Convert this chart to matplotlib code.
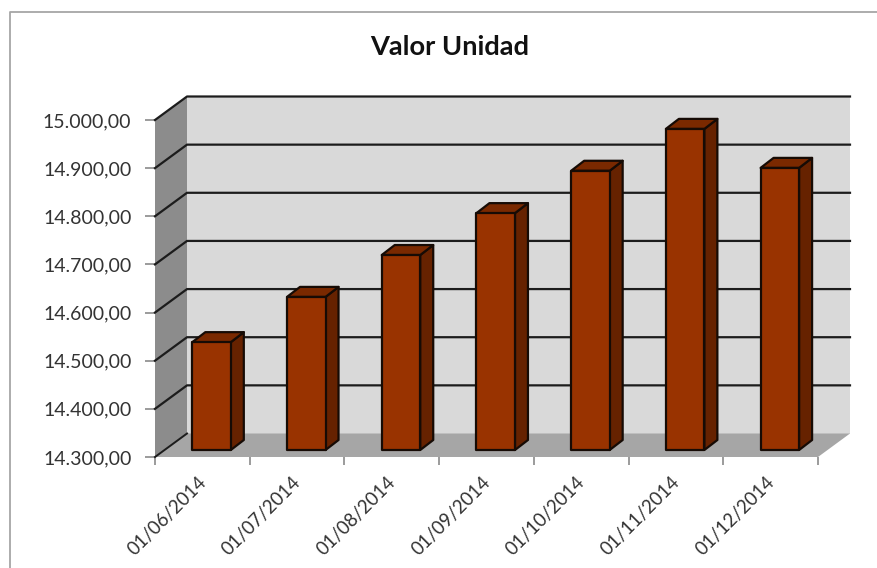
import matplotlib
matplotlib.use("Agg")
import matplotlib.pyplot as plt
from matplotlib.patches import Polygon
from matplotlib.lines import Line2D
from matplotlib.transforms import ScaledTranslation

# ---- data ----
categories = ["01/06/2014", "01/07/2014", "01/08/2014", "01/09/2014",
              "01/10/2014", "01/11/2014", "01/12/2014"]
values = [14524, 14618, 14705, 14792, 14880, 14967, 14886]
y_ticks = [14300, 14400, 14500, 14600, 14700, 14800, 14900, 15000]
y_labels = ["14.300,00", "14.400,00", "14.500,00", "14.600,00",
            "14.700,00", "14.800,00", "14.900,00", "15.000,00"]
title = "Valor Unidad"

W, H = 878, 568
L, R, T, B = 155, 818, 120, 457
plt.rcParams["font.family"] = ["Lato", "DejaVu Sans"]

fig = plt.figure(figsize=(W / 100, H / 100), dpi=100, facecolor="white")
ax = fig.add_axes([L / W, 1 - B / H, (R - L) / W, (B - T) / H])
ax.set_xlim(0, len(categories))
ax.set_ylim(y_ticks[0], y_ticks[-1])
ax.patch.set_visible(False)
for s in ax.spines.values():
    s.set_visible(False)

px_x = len(categories) / (R - L)
px_y = (y_ticks[-1] - y_ticks[0]) / (B - T)
WALL_X, WALL_Y = 32 * px_x, 23.5 * px_y
BAR_OFF_X, BAR_OFF_Y = 9.2 * px_x, 7 * px_y
BAR_DX, BAR_DY = 13 * px_x, 10 * px_y
BAR_W = 38.5 * px_x

xmax = len(categories)
y0, y1 = y_ticks[0], y_ticks[-1]


def poly(pts, fc, ec="none", lw=0, z=1):
    ax.add_patch(Polygon(pts, closed=True, facecolor=fc, edgecolor=ec,
                         linewidth=lw, zorder=z, clip_on=False,
                         joinstyle="round"))


# walls and floor
poly([(WALL_X, y0 + WALL_Y), (xmax + WALL_X, y0 + WALL_Y),
      (xmax + WALL_X, y1 + WALL_Y), (WALL_X, y1 + WALL_Y)], "#d9d9d9")
poly([(0, y0), (WALL_X, y0 + WALL_Y), (WALL_X, y1 + WALL_Y), (0, y1)], "#8c8c8c")
poly([(0, y0), (xmax, y0), (xmax + WALL_X, y0 + WALL_Y), (WALL_X, y0 + WALL_Y)], "#a6a6a6")

# gridlines: side wall + back wall
for v in y_ticks:
    if v == y0:
        continue
    ax.add_line(Line2D([0, WALL_X, xmax + WALL_X],
                       [v, v + WALL_Y, v + WALL_Y],
                       color="#1c1c1c", lw=1.6, zorder=2, clip_on=False))
ax.add_line(Line2D([0, WALL_X], [y0, y0 + WALL_Y], color="#1c1c1c",
                   lw=1.4, zorder=2, clip_on=False))

# bars
EDGE = "#160b05"
for i, v in enumerate(values):
    x0 = i + 0.5 - BAR_W / 2 + BAR_OFF_X
    x1 = x0 + BAR_W
    b = y0 + BAR_OFF_Y
    t = v + BAR_OFF_Y
    poly([(x1, b), (x1 + BAR_DX, b + BAR_DY), (x1 + BAR_DX, t + BAR_DY), (x1, t)],
         "#662200", EDGE, 1.6, 3)
    poly([(x0, t), (x1, t), (x1 + BAR_DX, t + BAR_DY), (x0 + BAR_DX, t + BAR_DY)],
         "#7a2900", EDGE, 1.6, 3)
    poly([(x0, b), (x1, b), (x1, t), (x0, t)], "#993300", EDGE, 1.6, 4)

# axes ticks and labels
ax.set_yticks(y_ticks, labels=y_labels)
ax.tick_params(axis="y", length=7, width=1.2, color="#8a8a8a", pad=10,
               labelsize=14, labelcolor="#333333")
ax.set_xticks(range(len(categories) + 1), labels=[""] * (len(categories) + 1))
ax.tick_params(axis="x", which="major", length=6, width=1.2, color="#8a8a8a")
ax.set_xticks([i + 0.5 for i in range(len(categories))], labels=categories, minor=True)
ax.tick_params(axis="x", which="minor", length=0, pad=12, labelsize=13.4,
               labelcolor="#333333")
shift = ScaledTranslation(-5 / 100, 0, fig.dpi_scale_trans)
for lab in ax.get_xticklabels(minor=True):
    lab.set_rotation(45)
    lab.set_ha("right")
    lab.set_va("top")
    lab.set_rotation_mode("anchor")
    lab.set_transform(lab.get_transform() + shift)

fig.text(449.5 / W, 1 - 47 / H, title, ha="center", va="center",
         fontsize=19.6, fontweight="bold", color="#111111")

# chart frame: only the top and left edges fall inside the picture
fig.add_artist(Line2D([10.5 / W, 10.5 / W, 1], [0, 1 - 12 / H, 1 - 12 / H],
                      transform=fig.transFigure, color="#a6a6a6", lw=1.3))

fig.savefig("out.png", dpi=100)
